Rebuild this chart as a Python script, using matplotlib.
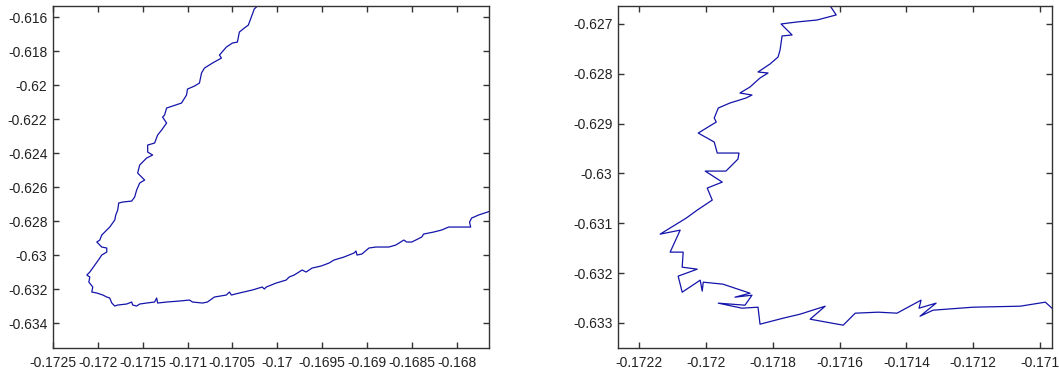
import numpy as np
import matplotlib.pyplot as plt

# left panel trajectory
left_x = [-0.170222, -0.170256, -0.170289, -0.170322, -0.170367, -0.170422, -0.170444,
          -0.170500, -0.170567, -0.170644, -0.170622, -0.170722, -0.170811, -0.170844,
          -0.170867, -0.170922, -0.171000, -0.171011, -0.171067, -0.171167, -0.171233,
          -0.171256, -0.171278, -0.171233, -0.171289, -0.171333, -0.171367, -0.171444,
          -0.171444, -0.171389, -0.171456, -0.171500, -0.171533, -0.171556, -0.171478,
          -0.171533, -0.171567, -0.171589, -0.171622, -0.171722, -0.171767, -0.171778,
          -0.171800, -0.171811, -0.171867, -0.171900, -0.171956, -0.171978, -0.172011,
          -0.171956, -0.171900, -0.171900, -0.171956, -0.171978, -0.172033, -0.172089,
          -0.172122, -0.172089, -0.172100, -0.172056, -0.172067, -0.172011, -0.171944,
          -0.171900, -0.171867, -0.171844, -0.171811, -0.171778, -0.171678, -0.171622,
          -0.171611, -0.171567, -0.171533, -0.171456, -0.171367, -0.171344, -0.171333,
          -0.171233, -0.171089, -0.170978, -0.170944, -0.170833, -0.170778, -0.170700,
          -0.170567, -0.170533, -0.170511, -0.170422, -0.170278, -0.170167, -0.170144,
          -0.170122, -0.170011, -0.169900, -0.169867, -0.169811, -0.169722, -0.169678,
          -0.169611, -0.169511, -0.169422, -0.169367, -0.169256, -0.169144, -0.169122,
          -0.169111, -0.169056, -0.168978, -0.168900, -0.168756, -0.168678, -0.168589,
          -0.168556, -0.168500, -0.168389, -0.168367, -0.168256, -0.168167, -0.168089,
          -0.167978, -0.167844, -0.167856, -0.167833, -0.167756, -0.167656, -0.167622]
left_y = [-0.615353, -0.615529, -0.616000, -0.616471, -0.616647, -0.616882, -0.617471,
          -0.617529, -0.617765, -0.618235, -0.618412, -0.618706, -0.619000, -0.619294,
          -0.619882, -0.620059, -0.620235, -0.620588, -0.621059, -0.621235, -0.621353,
          -0.621765, -0.621882, -0.622235, -0.622647, -0.622941, -0.623412, -0.623529,
          -0.623941, -0.624118, -0.624294, -0.624529, -0.624706, -0.625176, -0.625588,
          -0.625765, -0.626176, -0.626588, -0.626824, -0.626882, -0.626941, -0.627353,
          -0.627647, -0.627941, -0.628353, -0.628529, -0.628824, -0.629118, -0.629235,
          -0.629529, -0.629588, -0.629824, -0.630000, -0.630176, -0.630588, -0.631000,
          -0.631176, -0.631294, -0.631588, -0.631882, -0.632176, -0.632235, -0.632353,
          -0.632471, -0.632529, -0.632824, -0.633000, -0.632941, -0.632882, -0.632765,
          -0.632941, -0.633000, -0.632882, -0.632824, -0.632765, -0.632529, -0.632824,
          -0.632765, -0.632706, -0.632647, -0.632765, -0.632824, -0.632765, -0.632471,
          -0.632353, -0.632176, -0.632353, -0.632235, -0.632059, -0.631882, -0.632000,
          -0.631882, -0.631647, -0.631471, -0.631294, -0.631176, -0.630882, -0.631000,
          -0.630765, -0.630647, -0.630471, -0.630294, -0.630118, -0.629882, -0.629765,
          -0.630000, -0.629941, -0.629588, -0.629529, -0.629529, -0.629412, -0.629118,
          -0.629235, -0.629235, -0.628941, -0.628765, -0.628647, -0.628529, -0.628353,
          -0.628353, -0.628353, -0.628059, -0.627824, -0.627647, -0.627471, -0.627412]

# right panel trajectory
right_x = [-0.171634, -0.171610, -0.171667, -0.171727, -0.171775, -0.171742, -0.171772,
           -0.171778, -0.171784, -0.171808, -0.171844, -0.171814, -0.171838, -0.171868,
           -0.171898, -0.171862, -0.171880, -0.171928, -0.171963, -0.171975, -0.171969,
           -0.172023, -0.171975, -0.171966, -0.171901, -0.171904, -0.171940, -0.172002,
           -0.171951, -0.171996, -0.171981, -0.172026, -0.172059, -0.172137, -0.172077,
           -0.172107, -0.172068, -0.172071, -0.172026, -0.172083, -0.172071, -0.172017,
           -0.172011, -0.172008, -0.171949, -0.171868, -0.171913, -0.171862, -0.171883,
           -0.171963, -0.171892, -0.171844, -0.171838, -0.171769, -0.171718, -0.171643,
           -0.171688, -0.171589, -0.171553, -0.171484, -0.171428, -0.171356, -0.171362,
           -0.171311, -0.171359, -0.171320, -0.171200, -0.171059, -0.170984, -0.170951]
right_y = [-0.626578, -0.626819, -0.626920, -0.626960, -0.627000, -0.627221, -0.627241,
           -0.627522, -0.627663, -0.627803, -0.627964, -0.627984, -0.628084, -0.628265,
           -0.628386, -0.628426, -0.628486, -0.628586, -0.628687, -0.628888, -0.628968,
           -0.629189, -0.629369, -0.629590, -0.629590, -0.629711, -0.629952, -0.629952,
           -0.630173, -0.630293, -0.630534, -0.630735, -0.630896, -0.631217, -0.631137,
           -0.631578, -0.631578, -0.631880, -0.631920, -0.632060, -0.632382, -0.632141,
           -0.632361, -0.632181, -0.632221, -0.632402, -0.632482, -0.632442, -0.632643,
           -0.632602, -0.632703, -0.632683, -0.633024, -0.632904, -0.632823, -0.632663,
           -0.632924, -0.633044, -0.632803, -0.632783, -0.632803, -0.632542, -0.632703,
           -0.632602, -0.632864, -0.632743, -0.632683, -0.632663, -0.632582, -0.632783]

left_xticks = [-0.1725, -0.172, -0.1715, -0.171, -0.1705, -0.17, -0.1695, -0.169, -0.1685, -0.168]
left_yticks = [-0.616, -0.618, -0.62, -0.622, -0.624, -0.626, -0.628, -0.63, -0.632, -0.634]
right_xticks = [-0.1722, -0.172, -0.1718, -0.1716, -0.1714, -0.1712, -0.171]
right_yticks = [-0.627, -0.628, -0.629, -0.63, -0.631, -0.632, -0.633]

plt.rcParams['font.family'] = ['Liberation Sans', 'DejaVu Sans']

fig = plt.figure(figsize=(10.59, 3.74), dpi=100)
ax1 = fig.add_axes([0.0500, 0.0695, 0.4117, 0.9144])
ax2 = fig.add_axes([0.5836, 0.0695, 0.4098, 0.9144])

panels = [
    (ax1, left_x, left_y, left_xticks, left_yticks, (-0.1725, -0.16764), (-0.63547, -0.61535)),
    (ax2, right_x, right_y, right_xticks, right_yticks, (-0.172263, -0.170964), (-0.633502, -0.62664)),
]

for ax, xs, ys, xt, yt, xl, yl in panels:
    ax.plot(xs, ys, color='#1414aa', linewidth=0.9)
    ax.set_xlim(xl)
    ax.set_ylim(yl)
    ax.set_xticks(xt)
    ax.set_yticks(yt)
    ax.set_xticklabels(['%g' % v for v in xt])
    ax.set_yticklabels(['%g' % v for v in yt])
    ax.tick_params(direction='in', top=True, right=True, length=4, width=1,
                   color='#333333', labelsize=10, labelcolor='#222222')
    ax.tick_params(axis='x', pad=6)
    ax.tick_params(axis='y', pad=4)
    for s in ax.spines.values():
        s.set_color('#333333')
        s.set_linewidth(1.0)

fig.savefig('out.png', dpi=100)
